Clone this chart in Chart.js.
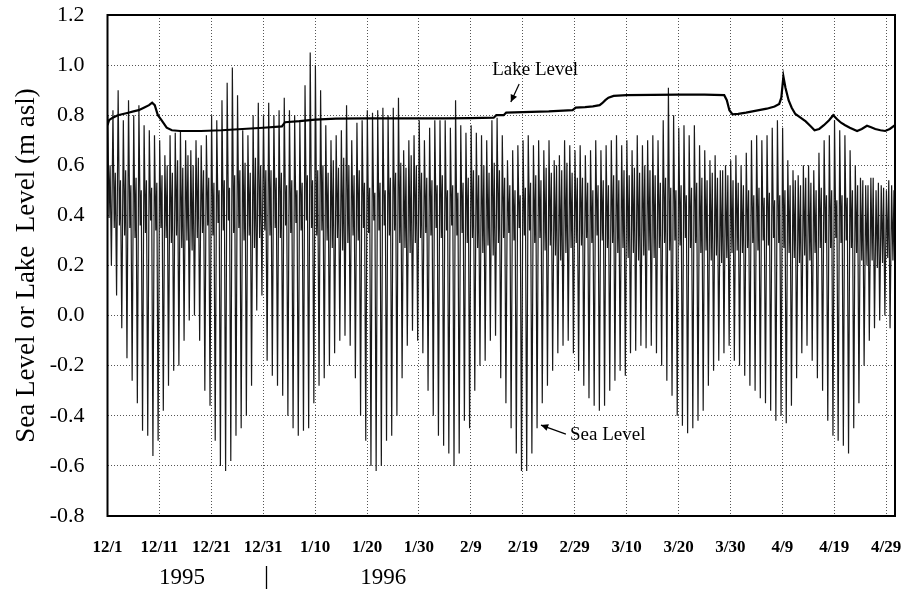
<!DOCTYPE html>
<html>
<head>
<meta charset="utf-8">
<script src="https://cdn.jsdelivr.net/npm/chart.js@4.4.1/dist/chart.umd.min.js"></script>
<style>
  html, body { margin: 0; padding: 0; background: #fff; }
  #wrap { width: 904px; height: 589px; position: relative; }
</style>
</head>
<body>
<div id="wrap"><canvas id="c"></canvas></div>
<script>
// ---- DATA (days counted from 12/1/1995 = 0) ----
const xTickDays = [0, 10, 20, 30, 40, 50, 60, 70, 80, 90, 100, 110, 120, 130, 140, 150];
const xTickLabels = ['12/1', '12/11', '12/21', '12/31', '1/10', '1/20', '1/30', '2/9', '2/19', '2/29', '3/10', '3/20', '3/30', '4/9', '4/19', '4/29'];
const yTickValues = [-0.8, -0.6, -0.4, -0.2, 0.0, 0.2, 0.4, 0.6, 0.8, 1.0, 1.2];
const yTickLabels = ['-0.8', '-0.6', '-0.4', '-0.2', '0.0', '0.2', '0.4', '0.6', '0.8', '1.0', '1.2'];

// Daily sea level: higher high, higher low, lower high, lower low (m asl), 12/1 .. 4/30
const seaHigh = [
  0.80,0.82,0.90,0.78,0.86,0.80,0.84,0.76,0.74,0.72, 0.70,0.64,0.72,0.73,0.74,0.70,0.66,0.70,0.68,0.72,
  0.80,0.78,0.86,0.93,0.99,0.88,0.74,0.72,0.80,0.85, 0.80,
  0.85,0.80,0.82,0.87,0.82,0.80,0.78,0.92,1.05,1.00, 0.90,0.76,0.70,0.72,0.74,0.84,0.70,0.77,0.78,0.82,
  0.81,0.82,0.83,0.80,0.83,0.87,0.66,0.70,0.72,0.78, 0.70,
  0.75,0.78,0.78,0.78,0.75,0.86,0.76,0.73,0.76,0.73, 0.72,0.70,0.78,0.79,0.72,0.62,0.66,0.68,0.70,0.72,
  0.68,0.70,0.66,0.70,0.62,0.64,0.70,0.68,0.66,
  0.68,0.64,0.66,0.70,0.66,0.68,0.70,0.72,0.68,0.70, 0.66,0.72,0.68,0.70,0.72,0.70,0.78,0.91,0.80,0.75,
  0.76,0.72,0.76,0.68,0.66,0.62,0.64,0.58,0.60,0.62, 0.64,
  0.60,0.65,0.70,0.72,0.70,0.72,0.75,0.78,0.75,0.62, 0.58,0.56,0.60,0.60,0.58,0.65,0.70,0.72,0.78,0.74,
  0.72,0.66,0.60,0.55,0.52,0.55,0.50,0.52,0.50,0.52
];
const seaMidLow = [
  0.39,0.35,0.36,0.32,0.35,0.31,0.36,0.33,0.38,0.34, 0.35,0.31,0.29,0.32,0.27,0.30,0.26,0.31,0.33,0.36,
  0.32,0.37,0.34,0.38,0.33,0.35,0.30,0.32,0.27,0.31, 0.34,
  0.32,0.35,0.31,0.36,0.33,0.37,0.34,0.38,0.35,0.32, 0.34,0.30,0.27,0.31,0.26,0.29,0.32,0.30,0.35,0.33,
  0.38,0.34,0.36,0.32,0.34,0.29,0.27,0.25,0.29,0.31, 0.33,
  0.32,0.35,0.31,0.34,0.36,0.32,0.33,0.29,0.31,0.27, 0.25,0.28,0.24,0.29,0.31,0.33,0.30,0.35,0.32,0.34,
  0.29,0.31,0.26,0.28,0.24,0.22,0.25,0.27,0.29,
  0.28,0.31,0.29,0.32,0.30,0.27,0.29,0.25,0.27,0.23, 0.25,0.22,0.24,0.26,0.23,0.27,0.29,0.26,0.30,0.28,
  0.31,0.27,0.29,0.25,0.26,0.22,0.24,0.21,0.23,0.25, 0.26,
  0.25,0.27,0.29,0.26,0.30,0.28,0.31,0.29,0.27,0.25, 0.23,0.21,0.24,0.22,0.25,0.27,0.29,0.27,0.31,0.29,
  0.30,0.27,0.25,0.22,0.20,0.22,0.19,0.21,0.23,0.22
];
const seaMidHigh = [
  0.60,0.57,0.54,0.58,0.52,0.55,0.50,0.54,0.51,0.53, 0.56,0.60,0.57,0.62,0.59,0.64,0.60,0.63,0.58,0.55,
  0.53,0.50,0.54,0.51,0.56,0.58,0.61,0.57,0.63,0.60, 0.58,
  0.58,0.55,0.57,0.52,0.54,0.50,0.53,0.56,0.54,0.58, 0.60,0.57,0.62,0.59,0.63,0.60,0.56,0.58,0.53,0.51,
  0.49,0.53,0.50,0.55,0.57,0.61,0.59,0.64,0.60,0.57, 0.55,
  0.54,0.52,0.56,0.50,0.52,0.49,0.53,0.55,0.58,0.56, 0.60,0.57,0.61,0.58,0.55,0.52,0.50,0.48,0.51,0.53,
  0.56,0.54,0.59,0.57,0.60,0.58,0.61,0.57,0.55,
  0.55,0.53,0.50,0.52,0.54,0.52,0.56,0.54,0.58,0.56, 0.59,0.57,0.60,0.58,0.56,0.53,0.55,0.51,0.50,0.52,
  0.48,0.51,0.53,0.55,0.54,0.57,0.55,0.58,0.56,0.54, 0.53,
  0.52,0.50,0.48,0.51,0.47,0.49,0.46,0.48,0.50,0.52, 0.54,0.52,0.55,0.53,0.50,0.51,0.48,0.50,0.46,0.48,
  0.47,0.50,0.52,0.54,0.52,0.55,0.53,0.51,0.54,0.50
];
const seaLow = [
  0.20,0.08,-0.05,-0.17,-0.26,-0.35,-0.46,-0.48,-0.56,-0.50, -0.38,-0.28,-0.22,-0.20,-0.10,-0.02,0.00,-0.10,-0.30,-0.36,
  -0.50,-0.60,-0.62,-0.58,-0.48,-0.45,-0.40,-0.28,0.02,0.08, -0.18,
  -0.24,-0.28,-0.32,-0.40,-0.45,-0.48,-0.46,-0.45,-0.35,-0.28, -0.25,-0.20,-0.15,-0.10,-0.08,-0.12,-0.25,-0.40,-0.50,-0.60,
  -0.62,-0.60,-0.50,-0.48,-0.40,-0.25,-0.12,-0.06,-0.10,-0.15, -0.30,
  -0.40,-0.48,-0.52,-0.55,-0.60,-0.55,-0.42,-0.45,-0.30,-0.20, -0.18,-0.10,-0.08,-0.25,-0.35,-0.45,-0.55,-0.62,-0.62,-0.55,
  -0.45,-0.35,-0.28,-0.22,-0.15,-0.12,-0.10,-0.15,-0.22,
  -0.28,-0.33,-0.36,-0.38,-0.36,-0.30,-0.26,-0.22,-0.24,-0.15, -0.14,-0.12,-0.13,-0.12,-0.15,-0.20,-0.26,-0.32,-0.40,-0.44,
  -0.47,-0.45,-0.42,-0.38,-0.28,-0.22,-0.18,-0.15,-0.12,-0.18, -0.20,
  -0.24,-0.28,-0.30,-0.33,-0.35,-0.38,-0.42,-0.40,-0.43,-0.36, -0.25,-0.15,-0.12,-0.18,-0.25,-0.30,-0.42,-0.48,-0.50,-0.52,
  -0.55,-0.45,-0.35,-0.20,-0.10,-0.05,-0.02,0.00,-0.05,-0.08
];

// Lake level readings (day, m asl)
const lakeDays = [0,0.3,1,2,3,4,5,6,7,8,8.6,9.1,9.7,10.4,11.4,12.4,14,18,22,26,30,33.6,34.2,37,40,44,50,55,60,65,70,74.4,74.9,76.3,76.8,80,85,89.6,90.2,92,93.5,94.8,95.3,95.9,96.5,97.5,100,105,110,115,118.8,119.3,119.8,120.4,121.5,123,125,127,128.5,129.4,129.8,130.2,130.6,131.2,131.8,132.5,133.5,134.5,135.5,136.2,137.1,138,139,139.8,140.5,141.3,142.1,143,144.4,145.3,146.3,147.1,147.9,148.9,149.8,150.7,151.7];
const lakeLevel = [0.76,0.78,0.79,0.80,0.805,0.81,0.815,0.82,0.83,0.84,0.85,0.84,0.80,0.78,0.75,0.74,0.737,0.737,0.74,0.745,0.75,0.755,0.772,0.776,0.782,0.786,0.787,0.787,0.787,0.787,0.788,0.79,0.80,0.80,0.81,0.812,0.815,0.82,0.83,0.832,0.835,0.84,0.848,0.86,0.87,0.877,0.88,0.881,0.882,0.882,0.88,0.86,0.82,0.803,0.805,0.81,0.818,0.826,0.835,0.845,0.87,0.955,0.91,0.86,0.83,0.805,0.79,0.775,0.755,0.74,0.745,0.76,0.78,0.80,0.785,0.77,0.76,0.75,0.737,0.745,0.758,0.752,0.745,0.74,0.737,0.745,0.76];

const yearLabels = ['1995', '1996'];
const labelTexts = { lake: 'Lake Level', sea: 'Sea Level', yTitle: 'Sea Level or Lake  Level (m asl)' };

// ---- build series ----
const seaPoints = [];
for (let d = 0; d < seaHigh.length; d++) {
  seaPoints.push({ x: d + 0.05, y: seaHigh[d] });
  seaPoints.push({ x: d + 0.3, y: seaMidLow[d] });
  seaPoints.push({ x: d + 0.5, y: seaMidHigh[d] });
  seaPoints.push({ x: d + 0.75, y: seaLow[d] });
}
const lakePoints = lakeDays.map((d, i) => ({ x: d, y: lakeLevel[i] }));

const SERIF = '"Liberation Serif", "Times New Roman", serif';

function arrow(ctx, x1, y1, x2, y2) {
  ctx.beginPath(); ctx.moveTo(x1, y1); ctx.lineTo(x2, y2); ctx.stroke();
  const ang = Math.atan2(y2 - y1, x2 - x1), L = 8, W = 0.45;
  ctx.beginPath();
  ctx.moveTo(x2, y2);
  ctx.lineTo(x2 - L * Math.cos(ang - W), y2 - L * Math.sin(ang - W));
  ctx.lineTo(x2 - L * Math.cos(ang + W), y2 - L * Math.sin(ang + W));
  ctx.closePath(); ctx.fill();
}

const decor = {
  id: 'decor',
  beforeDraw(chart) {
    const ctx = chart.ctx;
    ctx.save(); ctx.fillStyle = '#fff'; ctx.fillRect(0, 0, chart.width, chart.height); ctx.restore();
  },
  afterDraw(chart) {
    const { ctx, chartArea: a, scales: { x, y } } = chart;
    ctx.save();
    ctx.strokeStyle = '#000'; ctx.lineWidth = 2;
    ctx.strokeRect(a.left, a.top, a.right - a.left, a.bottom - a.top);

    ctx.fillStyle = '#000'; ctx.lineWidth = 1.2;
    ctx.font = '19px ' + SERIF; ctx.textBaseline = 'middle'; ctx.textAlign = 'left';
    // Lake Level label + arrow
    ctx.fillText(labelTexts.lake, x.getPixelForValue(74.1), y.getPixelForValue(0.98));
    arrow(ctx, x.getPixelForValue(79.3), y.getPixelForValue(0.925), x.getPixelForValue(77.7), y.getPixelForValue(0.853));
    // Sea Level label + arrow
    ctx.fillText(labelTexts.sea, x.getPixelForValue(89.1), y.getPixelForValue(-0.477));
    arrow(ctx, x.getPixelForValue(88.3), y.getPixelForValue(-0.473), x.getPixelForValue(83.5), y.getPixelForValue(-0.437));

    // year labels under the axis
    ctx.font = '23px ' + SERIF; ctx.textAlign = 'center';
    const yy = a.bottom + 62;
    ctx.fillText(yearLabels[0], x.getPixelForValue(14.35), yy);
    ctx.fillText(yearLabels[1], x.getPixelForValue(53.1), yy);
    const bx = Math.round(x.getPixelForValue(30.5)) + 0.5;
    ctx.lineWidth = 1.3;
    ctx.beginPath(); ctx.moveTo(bx, a.bottom + 50); ctx.lineTo(bx, a.bottom + 73); ctx.stroke();
    ctx.restore();
  }
};

Chart.defaults.font.family = SERIF;
Chart.defaults.color = '#000';

new Chart(document.getElementById('c'), {
  type: 'line',
  data: {
    datasets: [
      { label: 'Lake Level', data: lakePoints, borderColor: '#000', borderWidth: 2.2, pointRadius: 0, tension: 0, fill: false, order: 0 },
      { label: 'Sea Level', data: seaPoints, borderColor: '#1a1a1a', borderWidth: 1.2, pointRadius: 0, tension: 0, fill: false, order: 1 }
    ]
  },
  options: {
    responsive: true,
    maintainAspectRatio: false,
    animation: false,
    parsing: false,
    layout: { padding: { top: 15, right: 9, left: 0, bottom: 0 } },
    plugins: { legend: { display: false }, tooltip: { enabled: false } },
    scales: {
      x: {
        type: 'linear', min: 0, max: 151.7,
        afterBuildTicks: s => { s.ticks = xTickDays.map(v => ({ value: v })); },
        afterFit: s => { s.height = 73; s.paddingLeft = 0; s.paddingRight = 0; s.paddingTop = 0; s.paddingBottom = 0; },
        ticks: {
          callback: (v, i) => xTickLabels[i],
          font: { family: SERIF, size: 17, weight: 'bold' }, color: '#000',
          padding: 21, maxRotation: 0, minRotation: 0, autoSkip: false
        },
        grid: { color: '#555', lineWidth: 1, drawTicks: false, tickLength: 0 },
        border: { display: false, dash: [1, 2] }
      },
      y: {
        type: 'linear', min: -0.8, max: 1.2,
        afterBuildTicks: s => { s.ticks = yTickValues.map(v => ({ value: v })); },
        afterFit: s => { s.width = 107.5; s.paddingLeft = 0; s.paddingRight = 0; s.paddingTop = 0; s.paddingBottom = 0; },
        ticks: {
          callback: (v, i) => yTickLabels[i],
          font: { family: SERIF, size: 22 }, color: '#000', padding: 23
        },
        grid: { color: '#555', lineWidth: 1, drawTicks: false, tickLength: 0 },
        border: { display: false, dash: [1, 2] },
        title: {
          display: true, text: labelTexts.yTitle,
          font: { family: SERIF, size: 27 }, color: '#000',
          padding: { top: 11, bottom: 0 }
        }
      }
    }
  },
  plugins: [decor]
});
</script>
</body>
</html>
